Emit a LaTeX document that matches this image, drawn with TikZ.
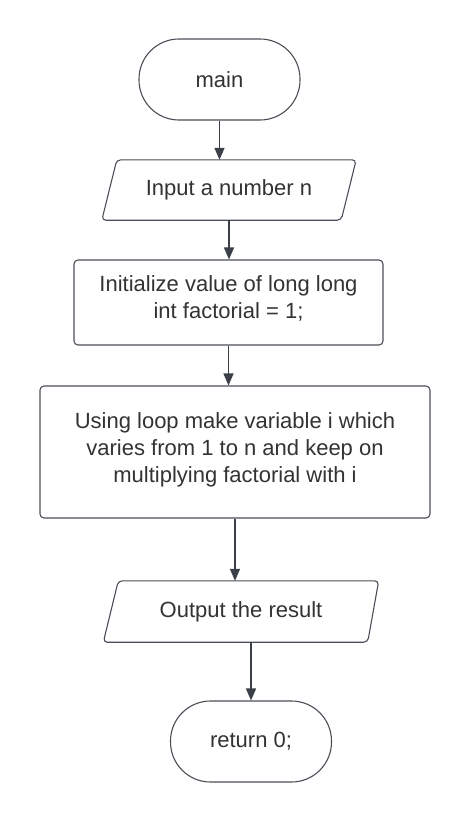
\documentclass[tikz,border=0pt]{standalone}
\usepackage{fontspec}
\setmainfont{Liberation Sans}
\usetikzlibrary{arrows.meta,calc}
\definecolor{txt}{HTML}{333333}
\definecolor{edge}{HTML}{4A4F57}
\definecolor{arrc}{HTML}{3A3F48}
\begin{document}
\begin{tikzpicture}[x=1pt,y=-1pt,
  lbl/.style={font=\fontsize{22}{27}\selectfont, text=txt, align=center, inner sep=0pt},
  term/.style={lbl, draw=edge, line width=1.1pt, rounded corners=40pt, minimum width=161pt, minimum height=81pt},
  procbox/.style={lbl, draw=edge, line width=1.1pt, rounded corners=4pt},
  iobox/.style={lbl, minimum height=61pt},
  arr/.style={draw=arrc, line width=1.3pt, -{Triangle[length=12pt,width=10pt]}}
]
\fill[white] (0,0) rectangle (471,822);
\useasboundingbox (0,0) rectangle (471,822);

\node[term] (main) at (219.5,79.5) {main};

\node[iobox, minimum width=254pt, minimum height=60pt] (in) at (229,190) {Input a number n};
\draw[draw=edge, line width=1.1pt, rounded corners=4pt]
  ($(in.north west)+(15,0)$) -- (in.north east) -- ($(in.south east)+(-15,0)$) -- (in.south west) -- cycle;

\node[procbox, minimum width=309pt, minimum height=85pt, text depth=0pt] (init) at (228.5,302.5) {};
\node[lbl] (initt) at (228.5,298) {Initialize value of long long\\int factorial = 1;};

\node[procbox, minimum width=390pt, minimum height=132pt] (big) at (235,452) {};
\node[lbl] (bigt) at (235,450) {Using loop make variable i which\\varies from 1 to n and keep on\\multiplying factorial with i};

\node[iobox, minimum width=275pt, minimum height=61pt] (out) at (241,611.5) {Output the result};
\draw[draw=edge, line width=1.1pt, rounded corners=4pt]
  ($(out.north west)+(15,0)$) -- (out.north east) -- ($(out.south east)+(-11,0)$) -- (out.south west) -- cycle;

\node[term] (ret) at (251,741.5) {return 0;};

\draw[arr] (main.south) -- (main.south |- in.north);
\draw[arr] (in.south) -- (in.south |- init.north);
\draw[arr] (init.south) -- (init.south |- big.north);
\draw[arr] (big.south) -- (big.south |- out.north);
\draw[arr] (ret.north |- out.south) -- (ret.north);
\end{tikzpicture}
\end{document}
